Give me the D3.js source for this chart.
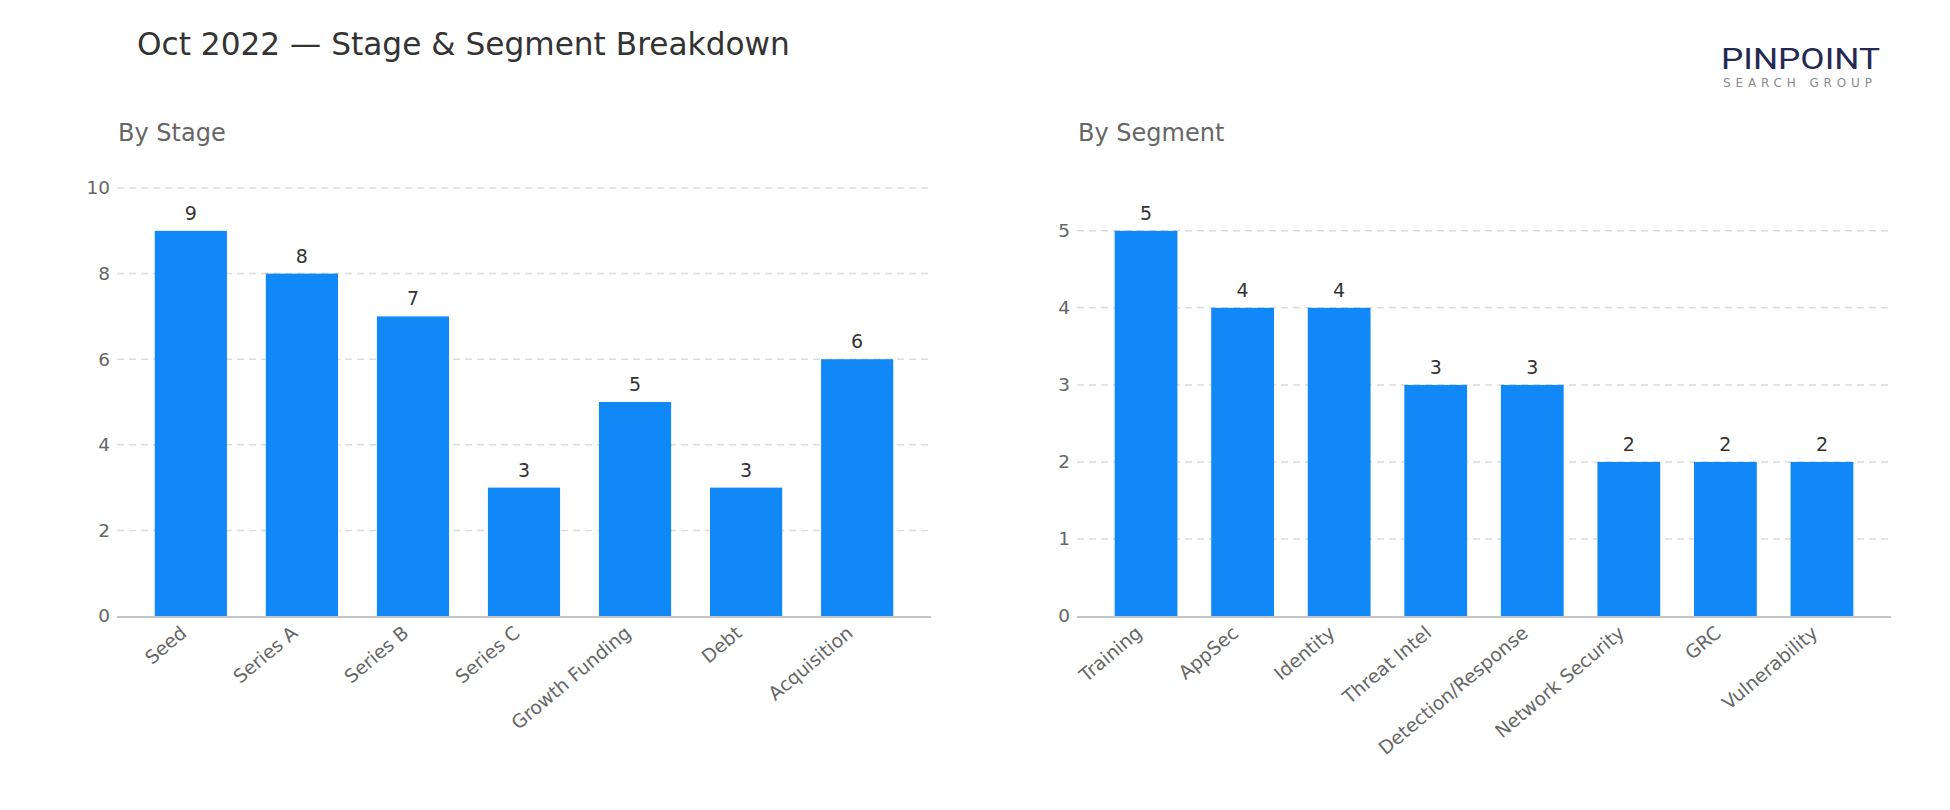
<!DOCTYPE html>
<html>
<head>
<meta charset="utf-8">
<script src="https://cdn.jsdelivr.net/npm/d3@7"></script>
<style>
  body { margin: 0; background: #fff; }
  svg { display: block; font-family: "DejaVu Sans", sans-serif; }
</style>
</head>
<body>
<script>
const stages = ['Seed', 'Series A', 'Series B', 'Series C', 'Growth Funding', 'Debt', 'Acquisition'];
const stageCounts = [9, 8, 7, 3, 5, 3, 6];
const stageTicks = [0, 2, 4, 6, 8, 10];

const segments = ['Training', 'AppSec', 'Identity', 'Threat Intel', 'Detection/Response',
                  'Network Security', 'GRC', 'Vulnerability'];
const segmentCounts = [5, 4, 4, 3, 3, 2, 2, 2];
const segmentTicks = [0, 1, 2, 3, 4, 5];

const width = 1950;
const height = 810;
const barColor = '#1188f8';

const svg = d3.select('body')
  .append('svg')
  .attr('width', width)
  .attr('height', height);

svg.append('text')
  .attr('x', 137)
  .attr('y', 55)
  .style('font-size', '31.2px')
  .style('fill', '#333')
  .text('Oct 2022 \u2014 Stage & Segment Breakdown');

// logo
const logo = svg.append('g').attr('transform', 'translate(1721,0)');
logo.append('text')
  .attr('x', 0).attr('y', 69)
  .attr('textLength', 159).attr('lengthAdjust', 'spacingAndGlyphs')
  .style('font-size', '30px')
  .style('fill', '#252850')
  .style('font-family', 'Roboto, sans-serif')
  .style('font-weight', 400)
  .text('PINPOINT');
logo.append('text')
  .attr('x', 2).attr('y', 87)
  .attr('textLength', 149).attr('lengthAdjust', 'spacing')
  .style('font-size', '12px')
  .style('fill', '#8a8a92')
  .text('SEARCH GROUP');

const drawPanel = (opts) => {
  const { title, cats, vals, ticks, x0, x1, outer } = opts;
  const yTop = 184.6, yBase = 616;

  const x = d3.scaleBand()
    .domain(cats)
    .range([x0, x1])
    .paddingInner(0.35)
    .paddingOuter(outer);

  const y = d3.scaleLinear()
    .domain([0, d3.max(vals) * 1.12])
    .range([yBase, yTop]);

  const g = svg.append('g');

  g.append('text')
    .attr('x', x0 + 1)
    .attr('y', 141)
    .style('font-size', '24px')
    .style('fill', '#666')
    .text(title);

  // grid
  g.selectAll('.grid')
    .data(ticks.filter((t) => t > 0))
    .enter()
    .append('line')
    .attr('x1', x0).attr('x2', x1)
    .attr('y1', (d) => y(d)).attr('y2', (d) => y(d))
    .attr('stroke', '#dcdcdc')
    .attr('stroke-width', 1.5)
    .attr('stroke-dasharray', '7,5');

  const yAxis = g.append('g')
    .attr('transform', `translate(${x0},0)`)
    .call(d3.axisLeft(y).tickValues(ticks).tickFormat(d3.format('d')).tickSize(0).tickPadding(7));
  yAxis.select('.domain').remove();
  yAxis.selectAll('text')
    .style('font-size', '18.5px')
    .style('fill', '#666')
    .style('font-family', '"DejaVu Sans", sans-serif');

  const data = cats.map((c, i) => ({ name: c, value: vals[i] }));

  g.selectAll('.bar')
    .data(data)
    .enter()
    .append('rect')
    .attr('x', (d) => x(d.name))
    .attr('y', (d) => y(d.value))
    .attr('width', x.bandwidth())
    .attr('height', (d) => y(0) - y(d.value))
    .attr('fill', barColor);

  g.selectAll('.val')
    .data(data)
    .enter()
    .append('text')
    .attr('x', (d) => x(d.name) + x.bandwidth() / 2)
    .attr('y', (d) => y(d.value) - 11)
    .attr('text-anchor', 'middle')
    .style('font-size', '19px')
    .style('fill', '#333')
    .text((d) => d.value);

  g.append('line')
    .attr('x1', x0).attr('x2', x1)
    .attr('y1', yBase + 1).attr('y2', yBase + 1)
    .attr('stroke', '#c4c4c4')
    .attr('stroke-width', 2);

  g.selectAll('.xlab')
    .data(cats)
    .enter()
    .append('text')
    .attr('transform', (d) => `translate(${x(d) + x.bandwidth() / 2 - 3},${yBase + 19}) rotate(-40)`)
    .attr('text-anchor', 'end')
    .style('font-size', '18.8px')
    .style('fill', '#666')
    .text((d) => d);
};

drawPanel({ title: 'By Stage', cats: stages, vals: stageCounts, ticks: stageTicks, x0: 117, x1: 931, outer: 0.34 });
drawPanel({ title: 'By Segment', cats: segments, vals: segmentCounts, ticks: segmentTicks, x0: 1077, x1: 1891, outer: 0.39 });
</script>
</body>
</html>
